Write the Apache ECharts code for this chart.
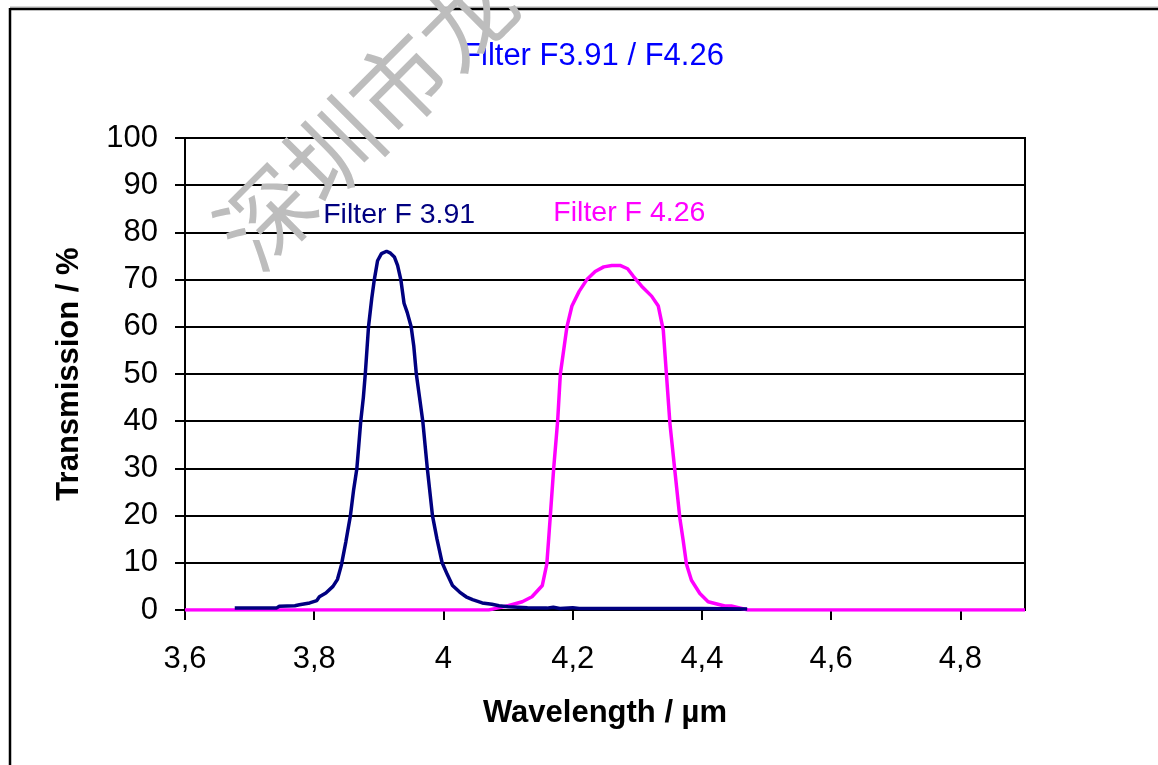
<!DOCTYPE html>
<html>
<head>
<meta charset="utf-8">
<script src="https://cdn.jsdelivr.net/npm/echarts@6/dist/echarts.min.js"></script>
<style>
html,body{margin:0;padding:0;background:#fff;}
#chart{width:1158px;height:765px;}
</style>
</head>
<body>
<div id="chart"></div>
<script>
const titleText = 'Filter F3.91 / F4.26';
const seriesNames = ['Filter F 3.91', 'Filter F 4.26'];
const xTickValues = [3.6, 3.8, 4.0, 4.2, 4.4, 4.6, 4.8];
const yTickValues = [0, 10, 20, 30, 40, 50, 60, 70, 80, 90, 100];

const f391Wavelength = [3.677, 3.70, 3.742, 3.746, 3.770, 3.777, 3.793, 3.804, 3.808, 3.818, 3.829, 3.836, 3.842, 3.849, 3.856, 3.861, 3.866, 3.869, 3.872, 3.876, 3.879, 3.884, 3.889, 3.893, 3.898, 3.904, 3.912, 3.918, 3.924, 3.929, 3.934, 3.939, 3.944, 3.950, 3.954, 3.958, 3.963, 3.968, 3.975, 3.983, 3.990, 3.998, 4.006, 4.014, 4.025, 4.035, 4.045, 4.060, 4.075, 4.086, 4.10, 4.13, 4.16, 4.17, 4.18, 4.20, 4.21, 4.25, 4.30, 4.35, 4.40, 4.47];
const f391Transmission = [0.4, 0.4, 0.45, 0.8, 0.9, 1.1, 1.5, 2.0, 2.8, 3.6, 5.0, 6.5, 9.5, 14.5, 20, 25.5, 30, 35, 40, 45, 50, 60, 66, 70, 74, 75.5, 76, 75.6, 74.8, 73, 70, 65, 63, 60, 56, 50, 45, 40, 30, 20, 15, 10, 7.5, 5.2, 3.8, 2.8, 2.2, 1.5, 1.2, 0.9, 0.7, 0.5, 0.4, 0.6, 0.3, 0.5, 0.3, 0.3, 0.3, 0.3, 0.3, 0.2];

const f426Wavelength = [3.60, 4.07, 4.081, 4.10, 4.122, 4.137, 4.153, 4.160, 4.163, 4.1654, 4.1706, 4.1767, 4.1809, 4.1911, 4.1988, 4.210, 4.2219, 4.2348, 4.248, 4.2605, 4.2733, 4.285, 4.2939, 4.3067, 4.3221, 4.3325, 4.3402, 4.3453, 4.3505, 4.3582, 4.3659, 4.371, 4.3761, 4.3838, 4.3968, 4.4096, 4.4353, 4.4455, 4.4712, 4.90];
const f426Transmission = [0, 0, 0.35, 0.9, 1.75, 2.8, 5.2, 9.8, 15.4, 20, 30, 40, 50, 60, 64.4, 67.5, 70, 71.7, 72.7, 73, 73, 72.3, 70.7, 68.6, 66.5, 64.4, 59.3, 49.5, 39.5, 29.4, 19.4, 14.7, 9.7, 6.3, 3.5, 1.75, 0.84, 0.84, 0, 0];

const labelCoords391 = [3.9315, 83.7];
const labelCoords426 = [4.2877, 84.1];

const zip = (xs, ys) => xs.map((x, i) => [x, ys[i]]);
const FONT = '"Liberation Sans", Arial, sans-serif';

const chart = echarts.init(document.getElementById('chart'));
chart.setOption({
  backgroundColor: '#fff',
  animation: false,
  title: {
    text: titleText,
    left: 588,
    top: 36,
    textAlign: 'center',
    textStyle: { color: '#0000ff', fontFamily: FONT, fontSize: 31, fontWeight: 'normal' }
  },
  grid: {
    left: 185, right: 133, top: 138, bottom: 155,
    show: true, borderColor: '#000', borderWidth: 2, backgroundColor: 'transparent'
  },
  xAxis: {
    type: 'value', min: 3.6, max: 4.9,
    name: 'Wavelength / µm', nameLocation: 'middle', nameGap: 88,
    nameTextStyle: { color: '#000', fontFamily: FONT, fontSize: 31, fontWeight: 'bold' },
    axisLine: { show: true, lineStyle: { color: '#000', width: 2 } },
    axisTick: { show: true, inside: false, length: 10, lineStyle: { color: '#000', width: 2 }, customValues: xTickValues },
    axisLabel: {
      color: '#000', fontFamily: FONT, fontSize: 31, margin: 34,
      customValues: xTickValues,
      formatter: v => String(+v.toFixed(1)).replace('.', ',')
    },
    splitLine: { show: false }
  },
  yAxis: {
    type: 'value', min: 0, max: 100, interval: 10,
    name: 'Transmission / %', nameLocation: 'middle', nameGap: 100,
    nameTextStyle: { color: '#000', fontFamily: FONT, fontSize: 31, fontWeight: 'bold' },
    axisLine: { show: true, lineStyle: { color: '#000', width: 2 } },
    axisTick: { show: true, inside: false, length: 10, lineStyle: { color: '#000', width: 2 } },
    axisLabel: { color: '#000', fontFamily: FONT, fontSize: 31, margin: 27 },
    splitLine: { show: true, lineStyle: { color: '#000', width: 2 } }
  },
  series: [
    {
      name: seriesNames[0], type: 'line', showSymbol: false, z: 3,
      data: zip(f391Wavelength, f391Transmission),
      lineStyle: { color: '#000080', width: 3.5 },
      itemStyle: { color: '#000080' },
      markPoint: {
        symbolSize: 0,
        data: [{ coord: labelCoords391, value: seriesNames[0] }],
        label: { show: true, position: 'inside', formatter: seriesNames[0], color: '#000080', fontFamily: FONT, fontSize: 28.5 }
      }
    },
    {
      name: seriesNames[1], type: 'line', showSymbol: false, z: 2,
      data: zip(f426Wavelength, f426Transmission),
      lineStyle: { color: '#ff00ff', width: 3.5 },
      itemStyle: { color: '#ff00ff' },
      markPoint: {
        symbolSize: 0,
        data: [{ coord: labelCoords426, value: seriesNames[1] }],
        label: { show: true, position: 'inside', formatter: seriesNames[1], color: '#ff00ff', fontFamily: FONT, fontSize: 28.5 }
      }
    }
  ],
  graphic: [
    { type: 'line', shape: { x1: 10, y1: 7, x2: 1158, y2: 7 }, style: { stroke: '#b0b0b0', lineWidth: 1 }, silent: true },
    { type: 'line', shape: { x1: 10, y1: 9, x2: 1158, y2: 9 }, style: { stroke: '#000', lineWidth: 2.5 }, silent: true },
    { type: 'line', shape: { x1: 10, y1: 8, x2: 10, y2: 765 }, style: { stroke: '#000', lineWidth: 2.5 }, silent: true },
    {
      type: 'text', x: 366, y: 117, rotation: Math.PI / 4, z: 100, silent: true,
      style: {
        text: '深圳市龙', fill: '#bdbdbd', font: '94px "Noto Sans CJK SC"',
        textAlign: 'center', textVerticalAlign: 'middle'
      }
    }
  ]
});
</script>
</body>
</html>
